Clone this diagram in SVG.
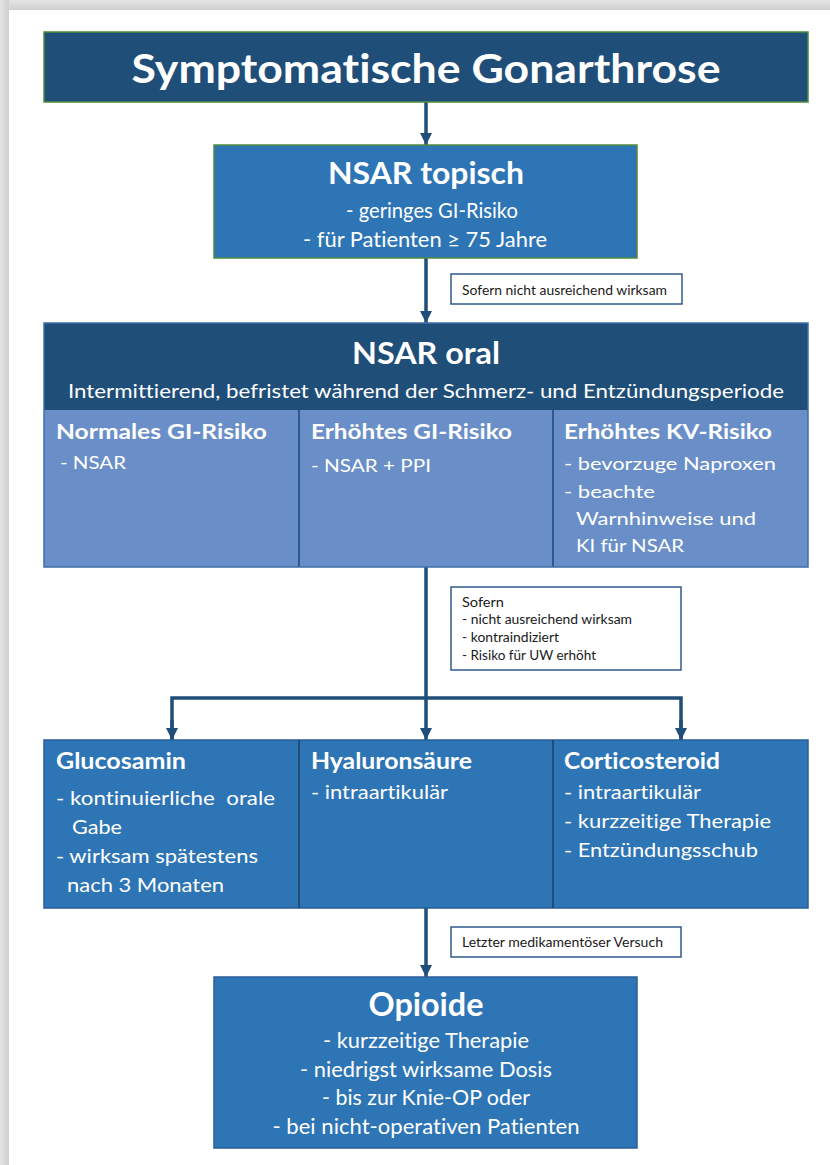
<svg xmlns="http://www.w3.org/2000/svg" width="830" height="1165" viewBox="0 0 830 1165">
<defs>
<linearGradient id="shTop" x1="0" y1="0" x2="0" y2="1"><stop offset="0" stop-color="#e4e4e4"/><stop offset="1" stop-color="#cfcfcf"/></linearGradient>
<linearGradient id="shLeft" x1="0" y1="0" x2="1" y2="0"><stop offset="0" stop-color="#e4e4e4"/><stop offset="1" stop-color="#cfcfcf"/></linearGradient>
<marker id="arr" viewBox="0 0 12 12" refX="12" refY="6" markerWidth="12" markerHeight="12" markerUnits="userSpaceOnUse" orient="auto"><path d="M0,0 L12,6 L0,12 z" fill="#1f4e79"/></marker>
<style>
text{font-family:Lato,"Liberation Sans",sans-serif;fill:#ffffff;font-variant-ligatures:none;font-feature-settings:"liga" 0,"clig" 0}
.b{font-weight:bold}
.c{text-anchor:middle}
.lbl{fill:#1a1a1a;font-size:14px}
.lbl2{fill:#1a1a1a;font-size:12.5px}
.conn{stroke:#1f4e79;stroke-width:3.5;fill:none}
.lbox{fill:#ffffff;stroke:#2f5a8c;stroke-width:1.5}
</style>
</defs>
<rect x="0" y="0" width="830" height="1165" fill="#ffffff"/>
<rect x="0" y="0" width="830" height="10" fill="url(#shTop)"/>
<rect x="0" y="0" width="9" height="1165" fill="url(#shLeft)"/>
<rect x="9" y="10" width="821" height="1155" fill="#ffffff"/>

<g id="connectors">
<line class="conn" x1="426" y1="102" x2="426" y2="145" marker-end="url(#arr)"/>
<line class="conn" x1="426" y1="258" x2="426" y2="323" marker-end="url(#arr)"/>
<line class="conn" x1="426" y1="567" x2="426" y2="740" marker-end="url(#arr)"/>
<polyline class="conn" points="172,740 172,698 681,698 681,740"/>
<line class="conn" x1="172" y1="720" x2="172" y2="740" marker-end="url(#arr)"/>
<line class="conn" x1="681" y1="720" x2="681" y2="740" marker-end="url(#arr)"/>
<line class="conn" x1="426" y1="908" x2="426" y2="977" marker-end="url(#arr)"/>
</g>

<g id="label1">
<rect class="lbox" x="451" y="274" width="231" height="30"/>
<text class="lbl" x="462" y="295" textLength="205" lengthAdjust="spacingAndGlyphs">Sofern nicht ausreichend wirksam</text>
</g>
<g id="label2">
<rect class="lbox" x="451" y="587" width="230" height="83"/>
<text class="lbl2" x="462" y="607" textLength="42" lengthAdjust="spacingAndGlyphs">Sofern</text>
<text class="lbl2" x="462" y="624" textLength="170" lengthAdjust="spacingAndGlyphs">- nicht ausreichend wirksam</text>
<text class="lbl2" x="462" y="642" textLength="97" lengthAdjust="spacingAndGlyphs">- kontraindiziert</text>
<text class="lbl2" x="462" y="660" textLength="134" lengthAdjust="spacingAndGlyphs">- Risiko für UW erhöht</text>
</g>
<g id="label3">
<rect class="lbox" x="451" y="927" width="230" height="30"/>
<text class="lbl" x="462" y="947" textLength="201" lengthAdjust="spacingAndGlyphs">Letzter medikamentöser Versuch</text>
</g>

<g id="title">
<rect x="44" y="32" width="764" height="70" fill="#1f4e79" stroke="#4f8a3c" stroke-width="1.5"/>
<text class="b c" x="426" y="83" font-size="41" textLength="589" lengthAdjust="spacingAndGlyphs">Symptomatische Gonarthrose</text>
</g>

<g id="nsar-topisch">
<rect x="214" y="145" width="423" height="113" fill="#2e75b6" stroke="#4f8a3c" stroke-width="1.5"/>
<text class="b c" x="426" y="184" font-size="30" textLength="196" lengthAdjust="spacingAndGlyphs">NSAR topisch</text>
<text class="c" x="432" y="218" font-size="21" textLength="172" lengthAdjust="spacingAndGlyphs">- geringes GI-Risiko</text>
<text class="c" x="425" y="247" font-size="21" textLength="244" lengthAdjust="spacingAndGlyphs">- für Patienten ≥ 75 Jahre</text>
</g>

<g id="nsar-oral">
<rect x="44" y="323" width="764" height="87" fill="#1f4e79"/>
<rect x="44" y="410" width="764" height="157" fill="#6a8fc8"/>
<line x1="299" y1="410" x2="299" y2="567" stroke="#2f5a8c" stroke-width="2"/>
<line x1="553" y1="410" x2="553" y2="567" stroke="#2f5a8c" stroke-width="2"/>
<rect x="44" y="323" width="764" height="244" fill="none" stroke="#3d6ea8" stroke-width="1.5"/>
<text class="b c" x="426" y="364" font-size="30" textLength="148" lengthAdjust="spacingAndGlyphs">NSAR oral</text>
<text class="c" x="426" y="398" font-size="20" textLength="716" lengthAdjust="spacingAndGlyphs">Intermittierend, befristet während der Schmerz- und Entzündungsperiode</text>
</g>
<g id="normales-gi">
<text class="b" x="56" y="439" font-size="20" textLength="211" lengthAdjust="spacingAndGlyphs">Normales GI-Risiko</text>
<text x="60" y="469" font-size="18" textLength="66" lengthAdjust="spacingAndGlyphs">- NSAR</text>
</g>
<g id="erhoehtes-gi">
<text class="b" x="311" y="439" font-size="20" textLength="201" lengthAdjust="spacingAndGlyphs">Erhöhtes GI-Risiko</text>
<text x="311" y="472" font-size="18" textLength="120" lengthAdjust="spacingAndGlyphs">- NSAR + PPI</text>
</g>
<g id="erhoehtes-kv">
<text class="b" x="564" y="439" font-size="20" textLength="208" lengthAdjust="spacingAndGlyphs">Erhöhtes KV-Risiko</text>
<text x="564" y="470" font-size="18" textLength="212" lengthAdjust="spacingAndGlyphs">- bevorzuge Naproxen</text>
<text x="564" y="498" font-size="18" textLength="91" lengthAdjust="spacingAndGlyphs">- beachte</text>
<text x="576" y="525" font-size="18" textLength="180" lengthAdjust="spacingAndGlyphs">Warnhinweise und</text>
<text x="576" y="552" font-size="18" textLength="108" lengthAdjust="spacingAndGlyphs">KI für NSAR</text>
</g>

<g id="row3-frame">
<rect x="44" y="740" width="764" height="168" fill="#2e75b6" stroke="#2a5f96" stroke-width="1.5"/>
<line x1="299" y1="740" x2="299" y2="908" stroke="#1f4e79" stroke-width="2"/>
<line x1="553" y1="740" x2="553" y2="908" stroke="#1f4e79" stroke-width="2"/>
</g>
<g id="glucosamin">
<text class="b" x="56" y="769" font-size="22" textLength="130" lengthAdjust="spacingAndGlyphs">Glucosamin</text>
<text x="56" y="805" font-size="20" textLength="219" lengthAdjust="spacingAndGlyphs" xml:space="preserve">- kontinuierliche  orale</text>
<text x="72" y="834" font-size="20" textLength="50" lengthAdjust="spacingAndGlyphs">Gabe</text>
<text x="56" y="863" font-size="20" textLength="202" lengthAdjust="spacingAndGlyphs">- wirksam spätestens</text>
<text x="67" y="892" font-size="20" textLength="157" lengthAdjust="spacingAndGlyphs">nach 3 Monaten</text>
</g>
<g id="hyaluronsaeure">
<text class="b" x="311" y="769" font-size="22" textLength="161" lengthAdjust="spacingAndGlyphs">Hyaluronsäure</text>
<text x="311" y="799" font-size="20" textLength="137" lengthAdjust="spacingAndGlyphs">- intraartikulär</text>
</g>
<g id="corticosteroid">
<text class="b" x="564" y="769" font-size="22" textLength="156" lengthAdjust="spacingAndGlyphs">Corticosteroid</text>
<text x="564" y="799" font-size="20" textLength="137" lengthAdjust="spacingAndGlyphs">- intraartikulär</text>
<text x="564" y="828" font-size="20" textLength="207" lengthAdjust="spacingAndGlyphs">- kurzzeitige Therapie</text>
<text x="564" y="857" font-size="20" textLength="194" lengthAdjust="spacingAndGlyphs">- Entzündungsschub</text>
</g>

<g id="opioide">
<rect x="214" y="977" width="423" height="171" fill="#2e75b6" stroke="#2a5f96" stroke-width="1.5"/>
<text class="b c" x="426" y="1016" font-size="33" textLength="115" lengthAdjust="spacingAndGlyphs">Opioide</text>
<text class="c" x="426" y="1048" font-size="21" textLength="206" lengthAdjust="spacingAndGlyphs">- kurzzeitige Therapie</text>
<text class="c" x="426" y="1077" font-size="21" textLength="252" lengthAdjust="spacingAndGlyphs">- niedrigst wirksame Dosis</text>
<text class="c" x="426" y="1105" font-size="21" textLength="208" lengthAdjust="spacingAndGlyphs">- bis zur Knie-OP oder</text>
<text class="c" x="426" y="1134" font-size="21" textLength="307" lengthAdjust="spacingAndGlyphs">- bei nicht-operativen Patienten</text>
</g>
</svg>
